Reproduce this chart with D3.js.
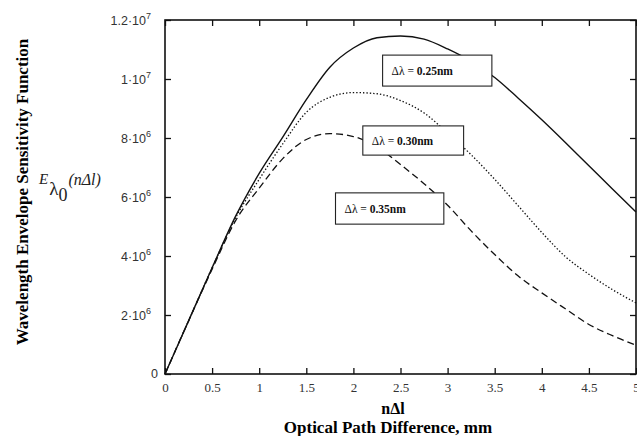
<!DOCTYPE html>
<html>
<head>
<meta charset="utf-8">
<script src="https://cdn.jsdelivr.net/npm/d3@7"></script>
<style>
  body { margin: 0; background: #fff; }
  svg { font-family: "Liberation Serif", "DejaVu Serif", serif; }
</style>
</head>
<body>
<svg id="chart" width="637" height="436"></svg>
<script>
// data (values in 1e6)
var opd = [0, 0.25, 0.5, 0.75, 1, 1.25, 1.5, 1.75, 2, 2.25, 2.5, 2.75, 3, 3.25, 3.5, 3.75, 4, 4.25, 4.5, 4.75, 5];
var dl025 = [0, 1.8, 3.6, 5.35, 6.8, 8.03, 9.3, 10.4, 11.05, 11.4, 11.46, 11.35, 11.02, 10.6, 10.05, 9.35, 8.62, 7.85, 7.06, 6.27, 5.49];
var dl030 = [0, 1.8, 3.6, 5.3, 6.6, 7.8, 8.87, 9.38, 9.54, 9.5, 9.27, 8.85, 8.17, 7.43, 6.6, 5.7, 4.8, 3.98, 3.38, 2.86, 2.41];
var dl035 = [0, 1.8, 3.55, 5.2, 6.3, 7.3, 7.95, 8.15, 8.05, 7.7, 7.1, 6.45, 5.72, 4.85, 4.05, 3.32, 2.75, 2.21, 1.68, 1.3, 0.98];
var seriesNames = ["0.25", "0.30", "0.35"];
var xTicks = [0, 0.5, 1, 1.5, 2, 2.5, 3, 3.5, 4, 4.5, 5];
var xTickLabels = ["0", "0.5", "1", "1.5", "2", "2.5", "3", "3.5", "4", "4.5", "5"];
var yTicks = [0, 2e6, 4e6, 6e6, 8e6, 1e7, 1.2e7];
var yTickMant = ["0", "2", "4", "6", "8", "1", "1.2"];
var yTickExp = ["", "6", "6", "6", "6", "7", "7"];

var margin = {top: 20, right: 1, bottom: 62, left: 165},
    W = 637, H = 436,
    width = W - margin.left - margin.right,
    height = H - margin.top - margin.bottom;

var svg = d3.select("#chart");
var g = svg.append("g").attr("transform", "translate(" + margin.left + "," + margin.top + ")");

var x = d3.scaleLinear().domain([0, 5]).range([0, width]);
var y = d3.scaleLinear().domain([0, 1.2e7]).range([height, 0]);

var series = [dl025, dl030, dl035].map(function(vals, i) {
    return {name: seriesNames[i], values: opd.map(function(d, j) { return {x: d, v: vals[j] * 1e6}; })};
});
var dashes = [null, "1.4,2", "7,4"];

var line = d3.line()
    .x(function(d) { return x(d.x); })
    .y(function(d) { return y(d.v); })
    .curve(d3.curveMonotoneX);

g.selectAll(".curve")
    .data(series)
    .enter().append("path")
    .attr("class", "curve")
    .attr("fill", "none")
    .attr("stroke", "#111")
    .attr("stroke-width", function(d, i) { return i == 0 ? 1.4 : 1.3; })
    .attr("stroke-dasharray", function(d, i) { return dashes[i]; })
    .attr("d", function(d) { return line(d.values); });

// axes: ticks inward on all four sides
var tickLen = 6;
g.append("g").attr("transform", "translate(0," + height + ")")
    .call(d3.axisBottom(x).tickValues(xTicks).tickSizeInner(-tickLen).tickSizeOuter(0)
          .tickFormat(function(d, i) { return xTickLabels[i]; }))
    .call(function(a) {
        a.select(".domain").remove();
        a.selectAll("text").attr("y", 9).attr("dy", "0.71em").attr("font-size", 13).attr("fill", "#333")
            .attr("font-family", "Liberation Serif");
    });
g.append("g")
    .call(d3.axisTop(x).tickValues(xTicks).tickSizeInner(-tickLen).tickSizeOuter(0).tickFormat(""))
    .call(function(a) { a.select(".domain").remove(); });
g.append("g").attr("transform", "translate(" + width + ",0)")
    .call(d3.axisRight(y).tickValues(yTicks).tickSizeInner(-tickLen).tickSizeOuter(0).tickFormat(""))
    .call(function(a) { a.select(".domain").remove(); });
var yAxisG = g.append("g")
    .call(d3.axisLeft(y).tickValues(yTicks).tickSizeInner(-tickLen).tickSizeOuter(0).tickFormat(""))
    .call(function(a) { a.select(".domain").remove(); });
g.selectAll(".tick line").attr("stroke", "#111").attr("stroke-width", 1.3);

// y tick labels with powers of ten
yAxisG.selectAll(".tick").each(function(d, i) {
    var t = d3.select(this).append("text")
        .attr("x", -14).attr("dy", "0.35em")
        .attr("text-anchor", "end")
        .attr("font-size", 12.5).attr("fill", "#333");
    if (yTickExp[i] == "") { t.attr("x", -7).attr("dy", "0.3em").text(yTickMant[i]); return; }
    t.append("tspan").text(yTickMant[i] + "\u00b710");
    t.append("tspan").attr("font-size", 9).attr("dy", "-0.7em").text(yTickExp[i]);
});

// frame
g.append("rect")
    .attr("width", width).attr("height", height)
    .attr("fill", "none").attr("stroke", "#111").attr("stroke-width", 1.6);

// label boxes (data units)
var boxes = [
    {label: "0.25nm", x0: 2.31, x1: 3.47, y0: 10.81e6, y1: 9.76e6},
    {label: "0.30nm", x0: 2.10, x1: 3.17, y0: 8.41e6, y1: 7.42e6},
    {label: "0.35nm", x0: 1.81, x1: 2.96, y0: 6.14e6, y1: 5.08e6}
];
var bg = g.selectAll(".lbl").data(boxes).enter().append("g").attr("class", "lbl");
bg.append("rect")
    .attr("x", function(d) { return x(d.x0); })
    .attr("y", function(d) { return y(d.y0); })
    .attr("width", function(d) { return x(d.x1) - x(d.x0); })
    .attr("height", function(d) { return y(d.y1) - y(d.y0); })
    .attr("fill", "#fff").attr("stroke", "#222").attr("stroke-width", 1.1);
var bt = bg.append("text")
    .attr("x", function(d) { return x(d.x0) + 9; })
    .attr("y", function(d) { return (y(d.y0) + y(d.y1)) / 2 + 4; })
    .attr("font-size", 11.5).attr("fill", "#111");
bt.append("tspan").text("\u0394\u03bb = ");
bt.append("tspan").attr("font-weight", "bold").text(function(d) { return d.label; });

// axis titles
svg.append("text")
    .attr("x", 393).attr("y", 414)
    .attr("text-anchor", "middle").attr("font-weight", "bold").attr("font-size", 16)
    .text("n\u0394l");
svg.append("text")
    .attr("x", 388).attr("y", 433)
    .attr("text-anchor", "middle").attr("font-weight", "bold").attr("font-size", 17)
    .text("Optical Path Difference, mm");
svg.append("text")
    .attr("transform", "translate(28,192) rotate(-90)")
    .attr("text-anchor", "middle").attr("font-weight", "bold").attr("font-size", 17)
    .text("Wavelength Envelope Sensitivity Function");

var ef = svg.append("text").attr("x", 39).attr("y", 184).attr("font-style", "italic").attr("font-size", 15).attr("fill", "#222");
ef.append("tspan").text("E");
ef.append("tspan").attr("font-style", "normal").attr("font-size", 19).attr("dx", 1).attr("dy", 11).text("\u03bb");
ef.append("tspan").attr("font-style", "normal").attr("font-size", 18).attr("dy", 6).text("0");
ef.append("tspan").attr("font-size", 16).attr("dx", 1).attr("dy", -16).text("(n\u0394l)");
</script>
</body>
</html>
